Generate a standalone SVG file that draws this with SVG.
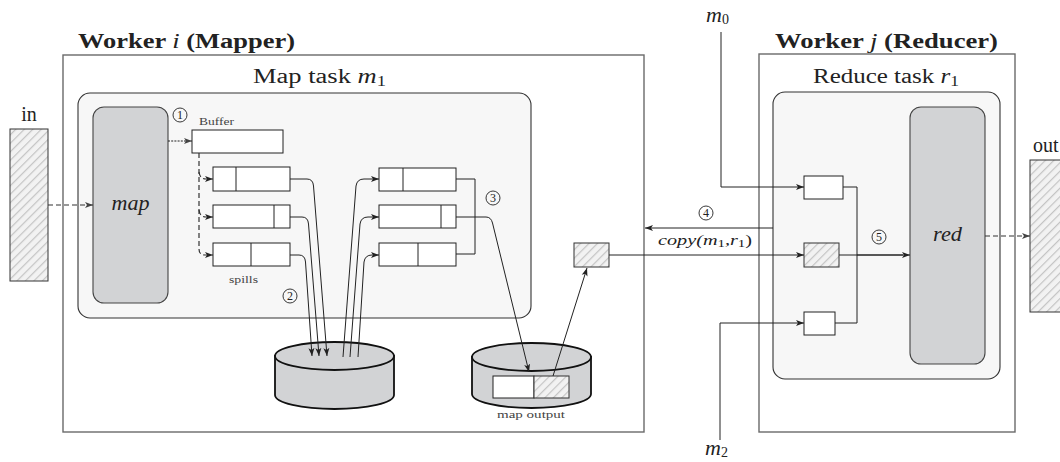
<svg xmlns="http://www.w3.org/2000/svg" width="1060" height="462" viewBox="0 0 1060 462">
<defs>
<pattern id="hatch" patternUnits="userSpaceOnUse" width="6" height="6" patternTransform="rotate(45)">
<rect width="6" height="6" fill="#f2f2f2"/>
<line x1="0" y1="0" x2="0" y2="6" stroke="#c4c4c4" stroke-width="2.4"/>
</pattern>
<marker id="arr" markerUnits="userSpaceOnUse" markerWidth="10" markerHeight="8" refX="8" refY="4" orient="auto">
<path d="M0,1 L8,4 L0,7 L2,4 z" fill="#222"/>
</marker>
<marker id="arrg" markerUnits="userSpaceOnUse" markerWidth="10" markerHeight="8" refX="8" refY="4" orient="auto">
<path d="M0,1 L8,4 L0,7 L2,4 z" fill="#444"/>
</marker>
</defs>
<style>
.worker{fill:#fff;stroke:#6a6a6a;stroke-width:1.4}
.task{fill:#f7f7f7;stroke:#333;stroke-width:1.1}
.func{fill:#d2d3d5;stroke:#444;stroke-width:1.1}
.box{fill:#fff;stroke:#222;stroke-width:1}
.hbox{fill:url(#hatch);stroke:#333;stroke-width:1}
.ln{fill:none;stroke:#222;stroke-width:1}
.dash{fill:none;stroke:#333;stroke-width:1.2;stroke-dasharray:5,3}
.disk{fill:#d2d3d5;stroke:#111;stroke-width:1.8}
text{font-family:"Liberation Serif","DejaVu Serif",serif;fill:#222}
.title{font-weight:bold;font-size:20px}
.lab{font-size:20px}
.it{font-style:italic;font-weight:normal}
.small{font-size:10px;fill:#444}
.num{font-size:12px;text-anchor:middle}
.circ{fill:none;stroke:#222;stroke-width:0.9}
</style>

<g id="worker-i">
<rect class="worker" x="63" y="55" width="581" height="377"/>
<text class="title" x="78" y="48" textLength="217" lengthAdjust="spacingAndGlyphs">Worker <tspan class="it">i</tspan> (Mapper)</text>
</g>
<g id="worker-j">
<rect class="worker" x="759" y="54" width="256" height="378"/>
<text class="title" x="775" y="48" textLength="223" lengthAdjust="spacingAndGlyphs">Worker <tspan class="it">j</tspan> (Reducer)</text>
</g>

<g id="map-task">
<rect class="task" x="78" y="93" width="453" height="225" rx="12"/>
<text class="lab" x="253" y="83" textLength="133" lengthAdjust="spacingAndGlyphs">Map task <tspan class="it">m</tspan><tspan font-size="14" dy="3">1</tspan></text>
</g>
<g id="reduce-task">
<rect class="task" x="773" y="92" width="227" height="287" rx="12"/>
<text class="lab" x="813" y="83" textLength="146" lengthAdjust="spacingAndGlyphs">Reduce task <tspan class="it">r</tspan><tspan font-size="14" dy="3">1</tspan></text>
</g>

<g id="input">
<rect class="hbox" x="10" y="129" width="38" height="152"/>
<text class="lab" x="29" y="121" text-anchor="middle">in</text>
</g>
<g id="output">
<rect class="hbox" x="1030" y="160" width="40" height="152"/>
<text class="lab" x="1033" y="152">out</text>
</g>

<g id="map">
<rect class="func" x="93" y="107" width="75" height="196" rx="11"/>
<text class="lab it" x="111.5" y="210" font-size="17" textLength="38" lengthAdjust="spacingAndGlyphs">map</text>
</g>
<g id="red">
<rect class="func" x="910" y="107" width="75" height="257" rx="11"/>
<text class="lab it" x="933" y="241" font-size="17" textLength="29" lengthAdjust="spacingAndGlyphs">red</text>
</g>

<g id="buffer">
<rect class="box" x="192" y="130" width="91" height="23"/>
<text class="small" x="199" y="125" textLength="35" lengthAdjust="spacingAndGlyphs">Buffer</text>
</g>

<g id="spills">
<rect class="box" x="213" y="167" width="77" height="24"/><line class="ln" x1="236" y1="167" x2="236" y2="191"/>
<rect class="box" x="213" y="205" width="77" height="23"/><line class="ln" x1="274" y1="205" x2="274" y2="228"/>
<rect class="box" x="213" y="243" width="77" height="23"/><line class="ln" x1="251" y1="243" x2="251" y2="266"/>
<text class="small" x="229" y="283" textLength="29" lengthAdjust="spacingAndGlyphs">spills</text>
</g>

<g id="merged">
<rect class="box" x="379" y="168" width="77" height="23"/><line class="ln" x1="403" y1="168" x2="403" y2="191"/>
<rect class="box" x="379" y="205" width="77" height="23"/><line class="ln" x1="441" y1="205" x2="441" y2="228"/>
<rect class="box" x="379" y="243" width="77" height="23"/><line class="ln" x1="418" y1="243" x2="418" y2="266"/>
</g>

<g id="disk-spill">
<path class="disk" d="M275,356 V395 A59.5,14 0 0 0 394,395 V356 z"/>
<ellipse class="disk" cx="334.5" cy="356" rx="59.5" ry="14"/>
</g>

<g id="disk-output">
<path class="disk" d="M472,357 V394 A59.5,14 0 0 0 591,394 V357 z"/>
<ellipse class="disk" cx="531.5" cy="357" rx="59.5" ry="14"/>
<rect class="box" x="493" y="376" width="41" height="22"/>
<rect class="hbox" x="534" y="376" width="35" height="22"/>
<text class="small" x="497" y="418" textLength="68" lengthAdjust="spacingAndGlyphs">map output</text>
</g>

<g id="transfer">
<rect class="hbox" x="574" y="243" width="35" height="24"/>
</g>

<g id="reduce-inputs">
<rect class="box" x="804" y="176" width="39" height="23"/>
<rect class="hbox" x="804" y="243" width="35" height="24"/>
<rect class="box" x="804" y="312" width="31" height="23"/>
</g>

<g id="labels">
<text class="it" x="706" y="21.5" font-size="22">m<tspan font-style="normal" font-size="14" dy="2">0</tspan></text>
<text class="it" x="705" y="455" font-size="22">m<tspan font-style="normal" font-size="14" dy="2">2</tspan></text>
<text class="it" x="658" y="245" font-size="15" textLength="94" lengthAdjust="spacingAndGlyphs">copy(m<tspan font-style="normal" font-size="11" dy="2">1</tspan><tspan dy="-2">,r</tspan><tspan font-style="normal" font-size="11" dy="2">1</tspan><tspan font-style="normal" dy="-2">)</tspan></text>
<circle class="circ" cx="180" cy="115" r="7"/><text class="num" x="180" y="119.2">1</text>
<circle class="circ" cx="290" cy="296" r="7"/><text class="num" x="290" y="300.2">2</text>
<circle class="circ" cx="493" cy="198" r="7"/><text class="num" x="493" y="202.2">3</text>
<circle class="circ" cx="706" cy="213" r="7"/><text class="num" x="706" y="217.2">4</text>
<circle class="circ" cx="879" cy="237" r="7"/><text class="num" x="879" y="241.2">5</text>
</g>

<g id="connectors">
<path class="dash" d="M48,205 H93" stroke="#555" stroke-dasharray="7,4" marker-end="url(#arrg)"/>
<path class="dash" d="M985,236 H1030" stroke="#555" stroke-dasharray="7,4" marker-end="url(#arrg)"/>
<path class="ln" d="M168,141 H192" stroke="#555" stroke-dasharray="2,1.2" stroke-width="0.8" marker-end="url(#arrg)"/>
<path class="dash" d="M199,153 V249 Q199,255 205,255 H213" marker-end="url(#arr)"/>
<path class="dash" d="M199,172 Q200,179 206,179 H213" marker-end="url(#arr)"/>
<path class="dash" d="M199,210 Q200,217 206,217 H213" marker-end="url(#arr)"/>
<path class="ln" d="M290,179 H307 Q313,179 313.5,186 L327,356" marker-end="url(#arr)"/>
<path class="ln" d="M290,217 H302 Q308,217 308.5,224 L319,356" marker-end="url(#arr)"/>
<path class="ln" d="M290,255 H299 Q305,255 305.5,262 L312,356" marker-end="url(#arr)"/>
<path class="ln" d="M343,357 L356,186 Q357,179 364,179 H379" marker-end="url(#arr)"/>
<path class="ln" d="M350,357 L360,224 Q361,217 368,217 H379" marker-end="url(#arr)"/>
<path class="ln" d="M358,357 L364,262 Q365,255 372,255 H379" marker-end="url(#arr)"/>
<path class="ln" d="M456,179 H475 V254 H456"/>
<path class="ln" d="M456,217 H486 Q491,217 492.5,223 L529,372" marker-end="url(#arr)"/>
<path class="ln" d="M553,376 L587,268" marker-end="url(#arr)"/>
<path class="ln" d="M609,255 H804" marker-end="url(#arr)"/>
<path class="ln" d="M773,228 H645" marker-end="url(#arr)"/>
<path class="ln" d="M721,32 V187 H804" marker-end="url(#arr)"/>
<path class="ln" d="M720,440 V323 H804" marker-end="url(#arr)"/>
<path class="ln" d="M843,187 H857 V323 H835"/>
<path class="ln" d="M839,255 H910" marker-end="url(#arr)"/>
<path class="ln" d="M857,255 H903" stroke-width="1.8"/>
</g>
</svg>
